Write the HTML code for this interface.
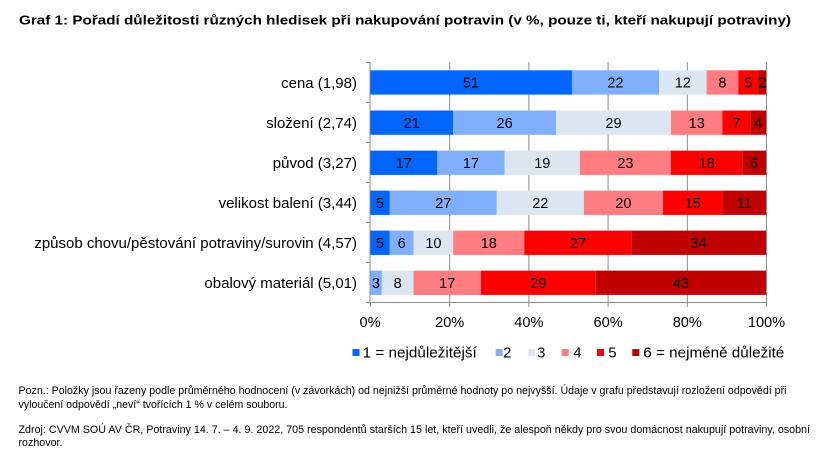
<!DOCTYPE html>
<html><head><meta charset="utf-8">
<style>
html,body{margin:0;padding:0;background:#fff;}
svg{display:block;}
text{font-family:"Liberation Sans",Arial,sans-serif;fill:#000;}
</style></head>
<body>
<svg width="834" height="461" viewBox="0 0 834 461" xmlns="http://www.w3.org/2000/svg">
<rect width="834" height="461" fill="#fff"/>
<text x="19" y="24.5" font-size="13.2" font-weight="bold" textLength="772" lengthAdjust="spacingAndGlyphs">Graf 1: Pořadí důležitosti různých hledisek při nakupování potravin (v %, pouze ti, kteří nakupují potraviny)</text>

<!-- gridlines -->
<g stroke="#8a8a8a" stroke-width="1">
<line x1="449.7" y1="62" x2="449.7" y2="303"/>
<line x1="528.9" y1="62" x2="528.9" y2="303"/>
<line x1="608.1" y1="62" x2="608.1" y2="303"/>
<line x1="687.3" y1="62" x2="687.3" y2="303"/>
<line x1="766.5" y1="62" x2="766.5" y2="303"/>
</g>

<!-- bars -->
<g id="bars">
<!-- row1 cena 51,22,12,8,5,2 -->
<rect x="370" y="70.3" width="201.96" height="24.3" fill="#0066FF"/>
<rect x="571.96" y="70.3" width="87.12" height="24.3" fill="#80AFFF"/>
<rect x="659.08" y="70.3" width="47.52" height="24.3" fill="#DCE6F2"/>
<rect x="706.6" y="70.3" width="31.68" height="24.3" fill="#FF7C80"/>
<rect x="738.28" y="70.3" width="19.8" height="24.3" fill="#FF0000"/>
<rect x="758.08" y="70.3" width="7.92" height="24.3" fill="#C00000"/>
<!-- row2 21,26,29,13,7,4 -->
<rect x="370" y="110.5" width="83.16" height="24.3" fill="#0066FF"/>
<rect x="453.16" y="110.5" width="102.96" height="24.3" fill="#80AFFF"/>
<rect x="556.12" y="110.5" width="114.84" height="24.3" fill="#DCE6F2"/>
<rect x="670.96" y="110.5" width="51.48" height="24.3" fill="#FF7C80"/>
<rect x="722.44" y="110.5" width="27.72" height="24.3" fill="#FF0000"/>
<rect x="750.16" y="110.5" width="15.84" height="24.3" fill="#C00000"/>
<!-- row3 17,17,19,23,18,6 -->
<rect x="370" y="150.6" width="67.32" height="24.3" fill="#0066FF"/>
<rect x="437.32" y="150.6" width="67.32" height="24.3" fill="#80AFFF"/>
<rect x="504.64" y="150.6" width="75.24" height="24.3" fill="#DCE6F2"/>
<rect x="579.88" y="150.6" width="91.08" height="24.3" fill="#FF7C80"/>
<rect x="670.96" y="150.6" width="71.28" height="24.3" fill="#FF0000"/>
<rect x="742.24" y="150.6" width="23.76" height="24.3" fill="#C00000"/>
<!-- row4 5,27,22,20,15,11 -->
<rect x="370" y="190.6" width="19.8" height="24.3" fill="#0066FF"/>
<rect x="389.8" y="190.6" width="106.92" height="24.3" fill="#80AFFF"/>
<rect x="496.72" y="190.6" width="87.12" height="24.3" fill="#DCE6F2"/>
<rect x="583.84" y="190.6" width="79.2" height="24.3" fill="#FF7C80"/>
<rect x="663.04" y="190.6" width="59.4" height="24.3" fill="#FF0000"/>
<rect x="722.44" y="190.6" width="43.56" height="24.3" fill="#C00000"/>
<!-- row5 5,6,10,18,27,34 -->
<rect x="370" y="230.6" width="19.8" height="24.3" fill="#0066FF"/>
<rect x="389.8" y="230.6" width="23.76" height="24.3" fill="#80AFFF"/>
<rect x="413.56" y="230.6" width="39.6" height="24.3" fill="#DCE6F2"/>
<rect x="453.16" y="230.6" width="71.28" height="24.3" fill="#FF7C80"/>
<rect x="524.44" y="230.6" width="106.92" height="24.3" fill="#FF0000"/>
<rect x="631.36" y="230.6" width="134.64" height="24.3" fill="#C00000"/>
<!-- row6 0,3,8,17,29,43 -->
<rect x="370" y="270.6" width="11.88" height="24.3" fill="#80AFFF"/>
<rect x="381.88" y="270.6" width="31.68" height="24.3" fill="#DCE6F2"/>
<rect x="413.56" y="270.6" width="67.32" height="24.3" fill="#FF7C80"/>
<rect x="480.88" y="270.6" width="114.84" height="24.3" fill="#FF0000"/>
<rect x="595.72" y="270.6" width="170.28" height="24.3" fill="#C00000"/>
</g>

<!-- axes -->
<g stroke="#8a8a8a" stroke-width="1">
<line x1="370" y1="62" x2="370" y2="303"/>
<line x1="370" y1="302.5" x2="767" y2="302.5"/>
<line x1="366" y1="62.5" x2="370" y2="62.5"/>
<line x1="366" y1="102.5" x2="370" y2="102.5"/>
<line x1="366" y1="142.5" x2="370" y2="142.5"/>
<line x1="366" y1="182.5" x2="370" y2="182.5"/>
<line x1="366" y1="222.5" x2="370" y2="222.5"/>
<line x1="366" y1="262.5" x2="370" y2="262.5"/>
<line x1="366" y1="302.5" x2="370" y2="302.5"/>
<line x1="370.5" y1="302" x2="370.5" y2="307"/>
<line x1="449.7" y1="302" x2="449.7" y2="307"/>
<line x1="528.9" y1="302" x2="528.9" y2="307"/>
<line x1="608.1" y1="302" x2="608.1" y2="307"/>
<line x1="687.3" y1="302" x2="687.3" y2="307"/>
<line x1="766.5" y1="302" x2="766.5" y2="307"/>
</g>

<!-- value labels -->
<g font-size="14.5" text-anchor="middle">
<text x="471" y="87.6">51</text>
<text x="615.5" y="87.6">22</text>
<text x="682.8" y="87.6">12</text>
<text x="722.4" y="87.6">8</text>
<text x="748.2" y="87.6">5</text>
<text x="762.5" y="87.6">2</text>

<text x="411.6" y="127.8">21</text>
<text x="504.6" y="127.8">26</text>
<text x="613.5" y="127.8">29</text>
<text x="696.7" y="127.8">13</text>
<text x="736.3" y="127.8">7</text>
<text x="758.1" y="127.8">4</text>

<text x="403.7" y="167.9">17</text>
<text x="471" y="167.9">17</text>
<text x="542.3" y="167.9">19</text>
<text x="625.4" y="167.9">23</text>
<text x="706.6" y="167.9">18</text>
<text x="754.1" y="167.9">6</text>

<text x="379.9" y="207.9">5</text>
<text x="443.3" y="207.9">27</text>
<text x="540.3" y="207.9">22</text>
<text x="623.4" y="207.9">20</text>
<text x="692.7" y="207.9">15</text>
<text x="744.2" y="207.9">11</text>

<text x="379.9" y="247.9">5</text>
<text x="401.7" y="247.9">6</text>
<text x="433.4" y="247.9">10</text>
<text x="488.8" y="247.9">18</text>
<text x="577.9" y="247.9">27</text>
<text x="698.7" y="247.9">34</text>

<text x="375.9" y="287.9">3</text>
<text x="397.7" y="287.9">8</text>
<text x="447.2" y="287.9">17</text>
<text x="538.3" y="287.9">29</text>
<text x="680.9" y="287.9">43</text>
</g>

<!-- category labels -->
<g font-size="15" text-anchor="end">
<text x="357" y="87.8">cena (1,98)</text>
<text x="357" y="128">složení (2,74)</text>
<text x="357" y="168">původ (3,27)</text>
<text x="357" y="208">velikost balení (3,44)</text>
<text x="357" y="248">způsob chovu/pěstování potraviny/surovin (4,57)</text>
<text x="357" y="288">obalový materiál (5,01)</text>
</g>

<!-- x tick labels -->
<g font-size="14.6" text-anchor="middle">
<text x="370" y="327">0%</text>
<text x="449.7" y="327">20%</text>
<text x="528.9" y="327">40%</text>
<text x="608.1" y="327">60%</text>
<text x="687.3" y="327">80%</text>
<text x="766.5" y="327">100%</text>
</g>

<!-- legend -->
<g>
<rect x="352.5" y="349" width="7" height="7" fill="#0066FF"/>
<text x="362.7" y="357.3" font-size="15" textLength="114" lengthAdjust="spacingAndGlyphs">1 = nejdůležitější</text>
<rect x="495.7" y="349" width="7" height="7" fill="#80AFFF"/>
<text x="503" y="357.3" font-size="15">2</text>
<rect x="528.3" y="349" width="7" height="7" fill="#DCE6F2"/>
<text x="537" y="357.3" font-size="15">3</text>
<rect x="561.7" y="349" width="7" height="7" fill="#FF7C80"/>
<text x="573.3" y="357.3" font-size="15">4</text>
<rect x="597" y="349" width="7" height="7" fill="#FF0000"/>
<text x="608.3" y="357.3" font-size="15">5</text>
<rect x="632.3" y="349" width="7" height="7" fill="#C00000"/>
<text x="643.3" y="357.3" font-size="15" textLength="141" lengthAdjust="spacingAndGlyphs">6 = nejméně důležité</text>
</g>

<!-- footnotes -->
<g font-size="11">
<text x="18.5" y="394" textLength="768" lengthAdjust="spacingAndGlyphs">Pozn.: Položky jsou řazeny podle průměrného hodnocení (v závorkách) od nejnižší průměrné hodnoty po nejvyšší. Údaje v grafu představují rozložení odpovědí při</text>
<text x="18.5" y="408" textLength="269" lengthAdjust="spacingAndGlyphs">vyloučení odpovědí „neví“ tvořících 1 % v celém souboru.</text>
<text x="18.5" y="433" textLength="791.5" lengthAdjust="spacingAndGlyphs">Zdroj: CVVM SOÚ AV ČR, Potraviny 14. 7. – 4. 9. 2022, 705 respondentů starších 15 let, kteří uvedli, že alespoň někdy pro svou domácnost nakupují potraviny, osobní</text>
<text x="18.5" y="446" textLength="44" lengthAdjust="spacingAndGlyphs">rozhovor.</text>
</g>
</svg>
</body></html>
